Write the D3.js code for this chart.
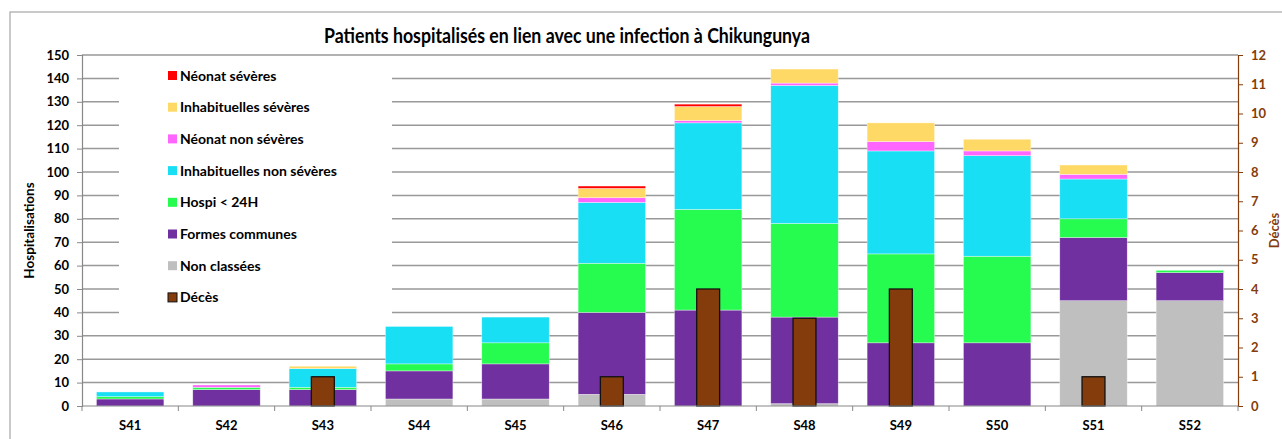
<!DOCTYPE html>
<html>
<head>
<meta charset="utf-8">
<script src="https://cdn.jsdelivr.net/npm/d3@7"></script>
<style>
	body { margin: 0; background: #fff; }
	svg { display: block; font-family: Lato, "Open Sans", sans-serif; }
</style>
</head>
<body>
<svg id="chart"></svg>
<script>
const weeks = ["S41", "S42", "S43", "S44", "S45", "S46", "S47", "S48", "S49", "S50", "S51", "S52"];
const nonClassees = [0, 0, 0, 3, 3, 5, 0, 1, 0, 0, 45, 45];
const formesCommunes = [3, 7, 7, 12, 15, 35, 41, 37, 27, 27, 27, 12];
const hospi24 = [1, 1, 1, 3, 9, 21, 43, 40, 38, 37, 8, 1];
const inhabNonSev = [2, 0, 8, 16, 11, 26, 37, 59, 44, 43, 17, 0];
const neonatNonSev = [0, 1, 0, 0, 0, 2, 1, 1, 4, 2, 2, 0];
const inhabSev = [0, 0, 1, 0, 0, 4, 6, 6, 8, 5, 4, 0];
const neonatSev = [0, 0, 0, 0, 0, 1, 1, 0, 0, 0, 0, 0];
const deces = [0, 0, 1, 0, 0, 1, 4, 3, 4, 0, 1, 0];

const leftTicks = d3.range(0, 151, 10);
const rightTicks = d3.range(0, 13, 1);

// stacking order bottom -> top
const series = [
	{ key: "Non classées", values: nonClassees, color: "#bfbfbf" },
	{ key: "Formes communes", values: formesCommunes, color: "#7030a0" },
	{ key: "Hospi < 24H", values: hospi24, color: "#26fb50" },
	{ key: "Inhabituelles non sévères", values: inhabNonSev, color: "#19dff5" },
	{ key: "Néonat non sévères", values: neonatNonSev, color: "#ff66ff" },
	{ key: "Inhabituelles sévères", values: inhabSev, color: "#ffd966" },
	{ key: "Néonat sévères", values: neonatSev, color: "#ff0000" }
];
const decesColor = "#843c0c";

const W = 1282, H = 439;
const plot = { left: 82, right: 1238, top: 55, bottom: 406 };

const svg = d3.select("#chart").attr("width", W).attr("height", H);

// chart area border
svg.append("rect")
	.attr("x", 10).attr("y", 12)
	.attr("width", W).attr("height", H)
	.attr("fill", "#fff")
	.attr("stroke", "#a6a6a6")
	.attr("stroke-width", 1.2);

const x = d3.scaleBand()
	.domain(weeks)
	.range([plot.left, plot.right])
	.paddingInner(0.3)
	.paddingOuter(0.15);

const y = d3.scaleLinear().domain([0, 150]).range([plot.bottom, plot.top]);
const y2 = d3.scaleLinear().domain([0, 12]).range([plot.bottom, plot.top]);

// gridlines
svg.append("g")
	.selectAll("line")
	.data(leftTicks.filter(d => d > 0))
	.enter().append("line")
	.attr("x1", plot.left).attr("x2", plot.right)
	.attr("y1", d => y(d)).attr("y2", d => y(d))
	.attr("stroke", "#999")
	.attr("stroke-width", 1.5);

// stacked bars
const table = weeks.map((w, i) => {
	const row = { week: w };
	series.forEach(s => { row[s.key] = s.values[i]; });
	return row;
});
const stacked = d3.stack().keys(series.map(s => s.key))(table);

svg.append("g")
	.selectAll("g")
	.data(stacked)
	.enter().append("g")
	.attr("fill", (d, i) => series[i].color)
	.selectAll("rect")
	.data(d => d.filter(p => p[1] - p[0] > 0))
	.enter().append("rect")
	.attr("x", d => x(d.data.week))
	.attr("y", d => y(d[1]))
	.attr("width", x.bandwidth())
	.attr("height", d => y(d[0]) - y(d[1]))
	.attr("stroke", "rgba(255,255,255,0.6)")
	.attr("stroke-width", 0.6);

// death bars (right axis)
const dw = x.bandwidth() * 0.34;
const decesData = weeks.map((w, i) => ({ week: w, v: deces[i] })).filter(d => d.v > 0);
svg.append("g")
	.selectAll("rect")
	.data(decesData)
	.enter().append("rect")
	.attr("x", d => x(d.week) + x.bandwidth() / 2 - dw / 2)
	.attr("y", d => y2(d.v))
	.attr("width", dw)
	.attr("height", d => y2(0) - y2(d.v))
	.attr("fill", decesColor)
	.attr("stroke", "#111")
	.attr("stroke-width", 1.3);

// left axis
const leftAxis = svg.append("g")
	.attr("transform", `translate(${plot.left},0)`)
	.call(d3.axisLeft(y).tickValues(leftTicks).tickSize(5).tickPadding(8));
leftAxis.select(".domain").attr("stroke", "#888").attr("stroke-width", 1.2);
leftAxis.selectAll(".tick line").attr("stroke", "#888");
leftAxis.selectAll("text")
	.attr("font-size", "13px")
	.attr("font-weight", "bold")
	.attr("fill", "#000")
	.attr("font-family", "Lato, sans-serif");

// right axis
const rightAxis = svg.append("g")
	.attr("transform", `translate(${plot.right},0)`)
	.call(d3.axisRight(y2).tickValues(rightTicks).tickSize(5).tickPadding(8));
rightAxis.select(".domain").attr("stroke", decesColor).attr("stroke-width", 1.2);
rightAxis.selectAll(".tick line").attr("stroke", decesColor);
rightAxis.selectAll("text")
	.attr("font-size", "13px")
	.attr("font-weight", "bold")
	.attr("fill", decesColor)
	.attr("font-family", "Lato, sans-serif");

// bottom axis: ticks at category boundaries
svg.append("line")
	.attr("x1", plot.left).attr("x2", plot.right)
	.attr("y1", plot.bottom).attr("y2", plot.bottom)
	.attr("stroke", "#888").attr("stroke-width", 1.2);
const step = x.step();
svg.append("g")
	.selectAll("line")
	.data(d3.range(weeks.length + 1))
	.enter().append("line")
	.attr("x1", i => plot.left + i * step).attr("x2", i => plot.left + i * step)
	.attr("y1", plot.bottom).attr("y2", plot.bottom + 5)
	.attr("stroke", "#888");
svg.append("g")
	.selectAll("text")
	.data(weeks)
	.enter().append("text")
	.attr("x", d => x(d) + x.bandwidth() / 2)
	.attr("y", 430)
	.attr("text-anchor", "middle")
	.attr("font-size", "13px")
	.attr("font-weight", "bold")
	.text(d => d);

// axis titles
svg.append("text")
	.attr("transform", `translate(34,${(plot.top + plot.bottom) / 2}) rotate(-90)`)
	.attr("text-anchor", "middle")
	.attr("font-size", "13.5px")
	.attr("font-weight", "bold")
	.text("Hospitalisations");

svg.append("text")
	.attr("transform", `translate(1279,${(plot.top + plot.bottom) / 2}) rotate(-90)`)
	.attr("text-anchor", "middle")
	.attr("font-size", "13px")
	.attr("font-weight", "bold")
	.attr("fill", decesColor)
	.text("Décès");

// title
svg.append("text")
	.attr("x", 567)
	.attr("y", 43)
	.attr("text-anchor", "middle")
	.attr("font-size", "21px")
	.attr("font-weight", "bold")
	.attr("textLength", 486)
	.attr("lengthAdjust", "spacingAndGlyphs")
	.text("Patients hospitalisés en lien avec une infection à Chikungunya");

// legend
const legendItems = series.slice().reverse().map(s => ({ key: s.key, color: s.color, border: false }))
	.concat([{ key: "Décès", color: decesColor, border: true }]);

svg.append("rect")
	.attr("x", 119).attr("y", 60)
	.attr("width", 273).attr("height", 260)
	.attr("fill", "#fff");

const legend = svg.append("g")
	.selectAll("g")
	.data(legendItems)
	.enter().append("g")
	.attr("transform", (d, i) => `translate(168,${76 + i * 31.7})`);

legend.append("rect")
	.attr("x", 0).attr("y", -5)
	.attr("width", 9).attr("height", 9)
	.attr("fill", d => d.color)
	.attr("stroke", d => d.border ? "#111" : "none")
	.attr("stroke-width", 1);

legend.append("text")
	.attr("x", 12)
	.attr("y", 4.5)
	.attr("font-size", "14px")
	.attr("font-weight", "bold")
	.text(d => d.key);
</script>
</body>
</html>
